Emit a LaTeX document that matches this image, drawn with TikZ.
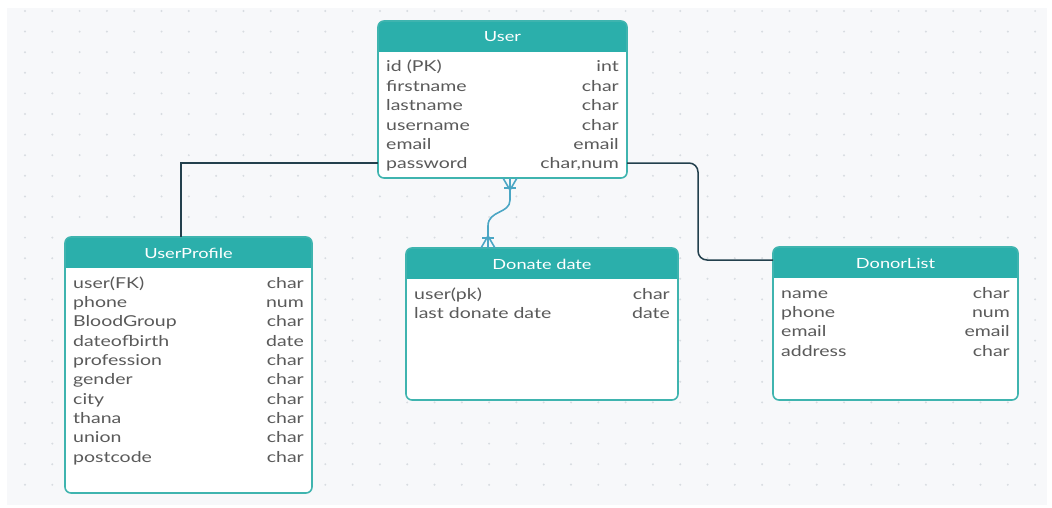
\documentclass[tikz,border=0pt]{standalone}
\usepackage{fontspec}
\setmainfont[FakeStretch=1.3]{Lato}
\usepackage{xcolor}
\usepackage{tikz}
\usetikzlibrary{calc}
\definecolor{erTeal}{HTML}{2BAFAB}
\definecolor{erBorder}{HTML}{3FB4AF}
\definecolor{erText}{HTML}{5A5A5A}
\definecolor{erLine}{HTML}{23404D}
\definecolor{erRel}{HTML}{4BA6C4}
\definecolor{erCanvas}{HTML}{F7F8FA}
\definecolor{erDot}{HTML}{D8DCE1}
\tikzset{
  er/body/.style   = {rectangle, fill=white, rounded corners=6pt, inner sep=0pt, outer sep=0pt},
  er/border/.style = {draw=erBorder, line width=1.6pt, rounded corners=6pt},
  er/title/.style  = {text=white, font=\fontsize{14}{17}\selectfont, inner sep=0pt},
  er/field/.style  = {text=erText, font=\fontsize{15}{18}\selectfont, inner sep=0pt,
                      text height=11pt, text depth=3pt},
  er/link/.style   = {draw=erLine, line width=1.5pt},
  er/rel/.style    = {draw=erRel, line width=1.6pt},
}
% table: name, x, y, width, height, title, rows
\newcommand{\ertable}[7]{%
  \node[er/body, anchor=north west, minimum width=#4pt, minimum height=#5pt] (#1) at (#2,#3) {};
  \begin{scope}
    \clip[rounded corners=6pt] (#1.north west) rectangle (#1.south east);
    \fill[erTeal] (#1.north west) rectangle ([yshift=-31pt]#1.north east);
  \end{scope}
  \draw[er/border] (#1.north west) rectangle (#1.south east);
  \node[er/title] (#1-title) at ([yshift=-16pt]#1.north) {#6};
  \foreach \f/\t [count=\i] in {#7} {
    \node[er/field, anchor=west] (#1-f\i) at ([xshift=8pt, yshift=-47pt-(\i-1)*19.35pt]#1.north west) {\f};
    \node[er/field, anchor=east] (#1-t\i) at ([xshift=-8pt, yshift=-47pt-(\i-1)*19.35pt]#1.north east) {\t};
  }
}
% crow's foot with bar, opening towards the table edge (#2 = +1 down, -1 up)
\newcommand{\crowfoot}[2]{%
  \draw[er/rel] ($(#1)+(-7,0)$) -- ($(#1)+(0,-12*#2)$) -- ($(#1)+(7,0)$);
  \draw[er/rel] (#1) -- ($(#1)+(0,-12*#2)$);
  \draw[er/rel] ($(#1)+(-6,-10*#2)$) -- ($(#1)+(6,-10*#2)$);
}

\begin{document}
\begin{tikzpicture}[x=1pt, y=-1pt]
  \useasboundingbox (0,0) rectangle (1052,508);
  \fill[white] (0,0) rectangle (1052,508);
  \fill[erCanvas] (7,8) rectangle (1047,505);
  % dotted grid
  \foreach \x in {0,...,37} {
    \foreach \y in {0,...,23} {
      \fill[erDot] ({25+27.3*\x},{11+20.6*\y}) circle (1.1pt);
    }
  }
  % tables
  \ertable{user}{378}{21}{249}{157}{User}{id (PK)/int, firstname/char, lastname/char,
    username/char, email/email, password/char{,}num}
  \ertable{profile}{65}{237}{247}{256}{UserProfile}{user(FK)/char, phone/num,
    BloodGroup/char, dateofbirth/date, profession/char, gender/char, city/char,
    thana/char, union/char, postcode/char}
  \ertable{donate}{406}{248}{272}{152}{Donate date}{user(pk)/char, last donate date/date}
  \ertable{donor}{773}{247}{245}{153}{DonorList}{name/char, phone/num, email/email,
    address/char}
  % relations
  \coordinate (lp) at (181,163);
  \coordinate (rp) at (698,163);
  \draw[er/link] (user.west |- lp) -- (lp) -- (lp |- profile.north);
  \draw[er/link, rounded corners=9pt] (user.east |- rp) -- (rp) -- (698,260) -- (donor.west |- 0,260);
  \coordinate (mtop) at (510,178);
  \coordinate (mbot) at (488,248);
  \draw[er/rel] (mtop) -- (510,200) .. controls (510,214) and (488,210) .. (488,226) -- (mbot);
  \crowfoot{mtop}{-1}
  \crowfoot{mbot}{1}
\end{tikzpicture}
\end{document}
